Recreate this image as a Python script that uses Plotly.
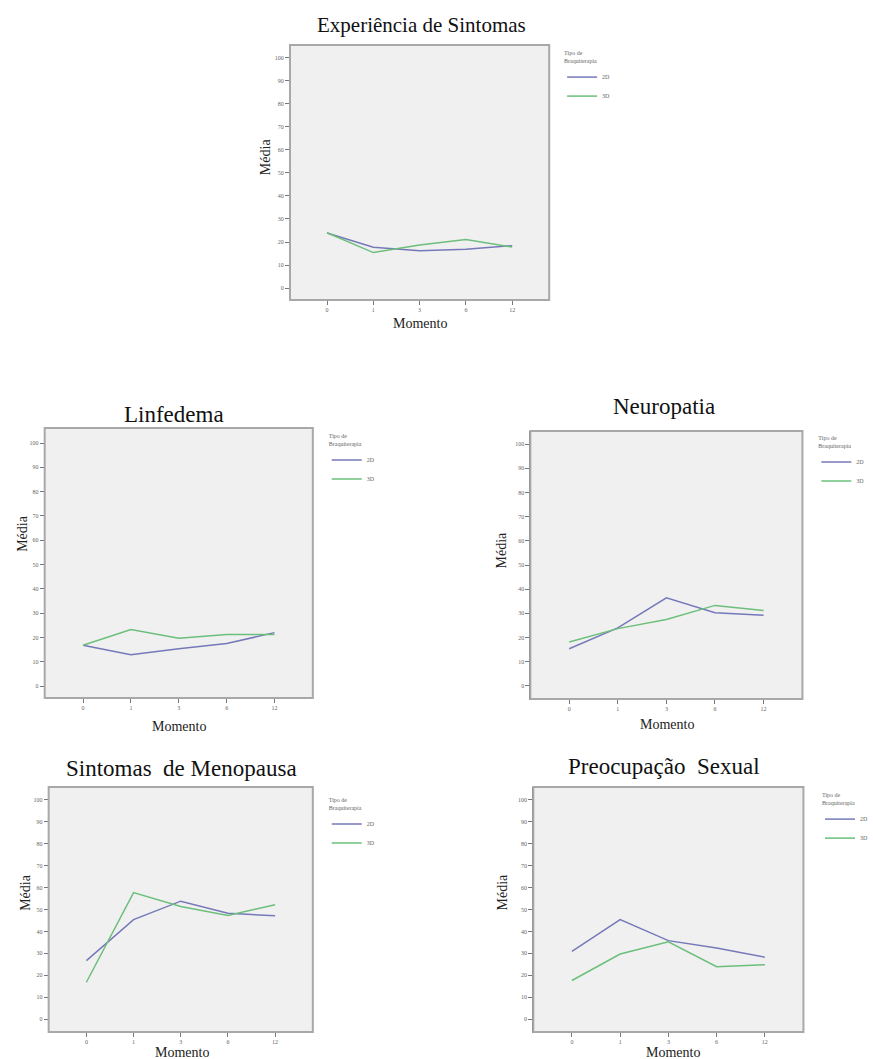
import plotly.graph_objects as go

W, H = 873, 1059

momentos = ["0", "1", "3", "6", "12"]
series_names = ["2D", "3D"]

titles = ["Experiência de Sintomas", "Linfedema", "Neuropatia",
          "Sintomas  de Menopausa", "Preocupação  Sexual"]

exp_2d = [23.9, 17.7, 16.2, 16.9, 18.4]
exp_3d = [24.0, 15.4, 18.7, 21.1, 17.8]
linf_2d = [16.8, 12.9, 15.4, 17.5, 22.0]
linf_3d = [16.8, 23.3, 19.7, 21.2, 21.2]
neuro_2d = [15.4, 24.0, 36.4, 30.3, 29.2]
neuro_3d = [18.2, 23.7, 27.5, 33.3, 31.2]
meno_2d = [26.7, 45.4, 53.8, 48.3, 47.1]
meno_3d = [16.8, 57.7, 51.4, 47.3, 52.2]
sex_2d = [30.9, 45.4, 35.8, 32.4, 28.2]
sex_3d = [17.6, 29.7, 35.3, 23.9, 24.8]

y_ticks = [0, 10, 20, 30, 40, 50, 60, 70, 80, 90, 100]

panels = [
    dict(d2=exp_2d, d3=exp_3d, frame=(292, 553, 45, 300), yr=(-5.2, 105.6),
         title=(424, 25, 21), ytitle=(267, 157), xtitle=(423, 323), legend=(566, 47)),
    dict(d2=linf_2d, d3=linf_3d, frame=(45, 315, 428, 698), yr=(-4.9, 106.2),
         title=(175, 414, 23), ytitle=(22, 533), xtitle=(180, 726), legend=(329, 430)),
    dict(d2=neuro_2d, d3=neuro_3d, frame=(534, 808, 431, 699), yr=(-5.4, 105.4),
         title=(669, 407, 23), ytitle=(504, 550), xtitle=(672, 724), legend=(822, 432)),
    dict(d2=meno_2d, d3=meno_3d, frame=(49, 315, 787, 1032), yr=(-5.9, 105.9),
         title=(183, 768, 23), ytitle=(25, 892), xtitle=(183, 1052), legend=(329, 794)),
    dict(d2=sex_2d, d3=sex_3d, frame=(537, 809, 787, 1032), yr=(-5.9, 105.9),
         title=(669, 766, 23), ytitle=(505, 892), xtitle=(678, 1052), legend=(826, 789)),
]

colors = {"2D": "#7579b9", "3D": "#6cbf7b"}
serif = "Liberation Serif, Times New Roman, serif"

fig = go.Figure()
layout = dict(width=W, height=H, margin=dict(l=0, r=0, t=0, b=0),
              paper_bgcolor="white", plot_bgcolor="#f0f0f0", showlegend=True)
annotations = []
shapes = []

for i, p in enumerate(panels):
    k = "" if i == 0 else str(i + 1)
    x0, x1, yt, yb = p["frame"]
    legname = "legend" if i == 0 else f"legend{i+1}"
    for name, vals in (("2D", p["d2"]), ("3D", p["d3"])):
        fig.add_trace(go.Scatter(
            x=momentos, y=vals, mode="lines", name=name,
            line=dict(color=colors[name], width=1.5),
            xaxis="x" + k, yaxis="y" + k, legend=legname,
            hoverinfo="x+y+name"))
    layout["xaxis" + k] = dict(
        domain=[x0 / W, x1 / W], anchor="y" + k, type="category",
        categoryorder="array", categoryarray=momentos,
        range=[-0.8, 4.8], showgrid=False, zeroline=False,
        showline=True, linecolor="#777777", linewidth=1,
        ticks="outside", ticklen=4, tickcolor="#777777",
        tickfont=dict(size=6, color="#666666", family=serif))
    layout["yaxis" + k] = dict(
        domain=[1 - yb / H, 1 - yt / H], anchor="x" + k,
        range=list(p["yr"]), tickvals=y_ticks, showgrid=False, zeroline=False,
        showline=True, linecolor="#777777", linewidth=1,
        ticks="outside", ticklen=4, tickcolor="#777777",
        tickfont=dict(size=6, color="#666666", family=serif))
    layout[legname] = dict(
        x=p["legend"][0] / W, y=1 - p["legend"][1] / H, xanchor="left", yanchor="top",
        bgcolor="rgba(0,0,0,0)", borderwidth=0,
        title=dict(text="Tipo de<br>Braquiterapia", font=dict(size=6, color="#666666", family=serif)),
        font=dict(size=6, color="#666666", family=serif),
        tracegroupgap=0, itemwidth=30)
    shapes.append(dict(type="rect", xref="paper", yref="paper",
                       x0=x0 / W, x1=x1 / W, y0=1 - yb / H, y1=1 - yt / H,
                       line=dict(color="#a8a8a8", width=2), fillcolor="rgba(0,0,0,0)",
                       layer="above"))
    tx, ty, ts = p["title"]
    annotations.append(dict(text=titles[i], x=tx / W, y=1 - ty / H, xref="paper", yref="paper",
                            showarrow=False, xanchor="center", yanchor="middle",
                            font=dict(size=ts, color="#111111", family=serif)))
    ax, ay = p["ytitle"]
    annotations.append(dict(text="Média", x=ax / W, y=1 - ay / H, xref="paper", yref="paper",
                            showarrow=False, textangle=-90, xanchor="center", yanchor="middle",
                            font=dict(size=14, color="#222222", family=serif)))
    mx, my = p["xtitle"]
    annotations.append(dict(text="Momento", x=mx / W, y=1 - my / H, xref="paper", yref="paper",
                            showarrow=False, xanchor="center", yanchor="middle",
                            font=dict(size=14, color="#222222", family=serif)))

layout["annotations"] = annotations
layout["shapes"] = shapes
fig.update_layout(**layout)
fig.write_html("out.html")
